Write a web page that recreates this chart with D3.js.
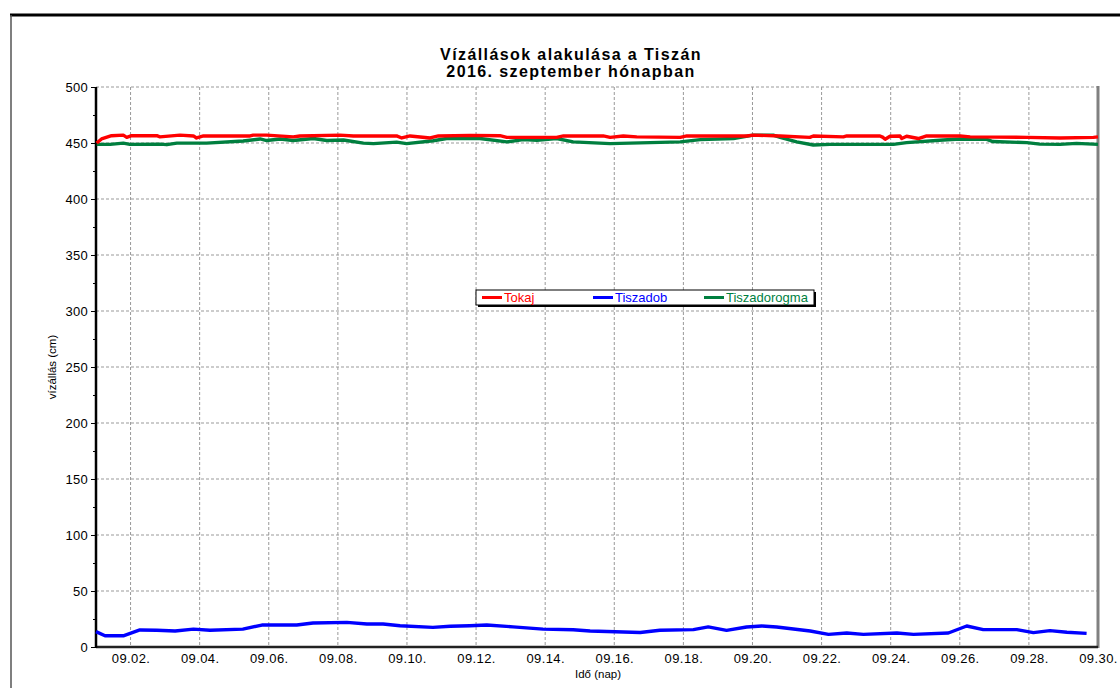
<!DOCTYPE html>
<html><head><meta charset="utf-8">
<script src="https://cdn.jsdelivr.net/npm/d3@7"></script>
<style>body{margin:0;background:#fff}svg{display:block;font-family:Arial,"Liberation Sans",sans-serif}</style>
</head><body><svg id="c" width="1120" height="688"></svg>
<script>
// Day of September 2016 (fractional) and water level (cm)
const tokajDays = [1.02,1.16,1.45,1.79,1.89,2.03,2.76,2.85,3.43,3.82,3.91,4.11,5.46,5.55,5.94,6.71,6.90,8.06,8.45,9.70,9.85,10.09,10.67,10.91,11.83,12.69,12.89,14.33,14.53,15.68,15.88,16.26,16.65,17.91,18.10,19.83,20.02,20.80,21.66,21.76,22.63,22.73,23.69,23.78,23.84,23.98,24.27,24.32,24.46,24.80,25.04,26.01,26.30,27.94,28.90,29.87,30.00];
const tokajVals = [450,453.6,456.5,457,455,456.5,456.5,455.5,457,456.3,454.5,456.3,456.3,457,457,455.5,456.3,457,456.3,456.3,454.5,456.3,454.5,456.3,456.8,456.5,455,455,456.3,456.3,455,456.3,455.5,455,456.3,456.3,457,456.3,455,456.3,455.5,456.3,456.3,455,453.3,456,456.3,454,456,454,456.3,456.3,455.5,455,454.5,455,455.5];
const tiszadobDays = [1.00,1.26,1.79,2.27,2.76,3.29,3.82,4.30,5.25,5.80,6.81,7.28,8.26,8.84,9.31,9.80,10.75,11.25,11.82,12.31,13.07,13.94,14.81,15.30,16.75,17.32,18.29,18.72,19.25,19.83,20.27,20.70,21.67,22.20,22.73,23.21,24.18,24.66,25.67,26.20,26.68,27.65,28.13,28.61,29.10,29.67];
const tiszadobVals = [13.7,10,10,15.2,15,14.3,16,15,16,19.6,19.6,21.4,22,20.5,20.5,19,17.5,18.5,19,19.6,18,16,15.4,14.3,13,14.9,15.5,17.9,14.9,17.9,18.75,17.9,14.3,11.3,12.5,11.3,12.5,11.3,12.5,18.75,15.5,15.5,12.8,14.6,13.2,12.2];
const dorogmaDays = [1.02,1.41,1.79,1.98,2.85,3.05,3.34,4.20,5.26,5.75,5.94,6.33,6.71,7.29,7.68,8.16,8.74,9.03,9.70,9.99,10.76,11.15,12.11,12.89,13.37,13.76,14.33,14.81,15.88,17.91,18.49,19.45,20.02,20.60,20.80,21.28,21.76,22.24,23.69,24.08,24.46,25.52,26.01,26.78,26.96,27.94,28.32,28.90,29.38,30.00];
const dorogmaVals = [448.8,448.8,449.9,448.8,449,448.5,449.9,449.9,451.8,453.6,452.2,453.6,452.2,454,452.2,452.7,449.9,449.4,450.8,449.4,452,454,454,451,453,452.5,454,451,449.4,451,453,454,457,457,455,451,448.2,448.8,448.8,448.8,450.3,452.7,453.6,453.2,451.3,450.3,449,448.8,449.7,448.8];
const seriesNames = ["Tokaj","Tiszadob","Tiszadorogma"];
const seriesColors = ["#ff0000","#0000ff","#007f3f"];
const xTickDays = [2,4,6,8,10,12,14,16,18,20,22,24,26,28,30];
const xTickLabels = ["09.02.","09.04.","09.06.","09.08.","09.10.","09.12.","09.14.","09.16.","09.18.","09.20.","09.22.","09.24.","09.26.","09.28.","09.30."];
const yTicks = [0,50,100,150,200,250,300,350,400,450,500];
const yMinorTicks = [25,75,125,175,225,275,325,375,425,475];
const titleLines = ["Vízállások alakulása a Tiszán","2016. szeptember hónapban"];
const xTitle = "Idő (nap)";
const yTitle = "vízállás (cm)";

const svg = d3.select("#c");
const L = 96, R = 1098, T = 87, B = 647;
const x = d3.scaleLinear().domain([1,30]).range([L,R]);
const y = d3.scaleLinear().domain([0,500]).range([B,T]);
const FF = "Arial, 'Liberation Sans', sans-serif";

// outer frame
svg.append("line").attr("x1",10).attr("x2",1120).attr("y1",15).attr("y2",15).attr("stroke","#000").attr("stroke-width",3);
svg.append("line").attr("x1",11).attr("x2",11).attr("y1",15).attr("y2",688).attr("stroke","#555").attr("stroke-width",1.5);

// gridlines
const g = svg.append("g");
g.selectAll(".vg").data(xTickDays).join("line")
  .attr("x1",d=>x(d)).attr("x2",d=>x(d)).attr("y1",T).attr("y2",B)
  .attr("stroke","#999").attr("stroke-dasharray","3,2").attr("stroke-width",1);
g.selectAll(".hg").data(yTicks).join("line")
  .attr("x1",L).attr("x2",R).attr("y1",d=>y(d)).attr("y2",d=>y(d))
  .attr("stroke","#999").attr("stroke-dasharray","3,2").attr("stroke-width",1);

// axes
const yAxis = d3.axisLeft(y).tickValues(yTicks).tickSize(5).tickPadding(3).tickFormat(d3.format("d"));
const ya = svg.append("g").attr("transform",`translate(${L},0)`).call(yAxis);
ya.select(".domain").remove();
ya.selectAll("text").attr("font-size",13).attr("letter-spacing",0.3).attr("fill","#000").attr("font-family",FF);
svg.append("g").attr("transform",`translate(${L},0)`).call(d3.axisLeft(y).tickValues(yMinorTicks).tickSize(3).tickFormat(""))
  .select(".domain").remove();

const xAxis = d3.axisBottom(x).tickValues(xTickDays).tickSize(0).tickPadding(7).tickFormat((d,i)=>xTickLabels[i]);
const xa = svg.append("g").attr("transform",`translate(0,${B})`).call(xAxis);
xa.select(".domain").remove();
xa.selectAll("text").attr("font-size",13).attr("letter-spacing",0.4).attr("fill","#000").attr("font-family",FF);

// frame lines
svg.append("line").attr("x1",R).attr("x2",R).attr("y1",T-1).attr("y2",B+1).attr("stroke","#808080").attr("stroke-width",3);
svg.append("line").attr("x1",L).attr("x2",R).attr("y1",B).attr("y2",B).attr("stroke","#222").attr("stroke-width",2.5);
svg.append("line").attr("x1",L).attr("x2",L).attr("y1",T).attr("y2",B+1).attr("stroke","#000").attr("stroke-width",2.5);

// series
const line = d3.line().x(d=>x(d[0])).y(d=>y(d[1]));
const series = [
  d3.zip(tokajDays,tokajVals),
  d3.zip(tiszadobDays,tiszadobVals),
  d3.zip(dorogmaDays,dorogmaVals)
];
[2,0,1].forEach(i=>{
  svg.append("path").datum(series[i]).attr("d",line).attr("fill","none")
    .attr("stroke",seriesColors[i]).attr("stroke-width",3.4).attr("stroke-linejoin","round");
});

// titles
svg.append("text").attr("x",571).attr("y",60).attr("text-anchor","middle").attr("font-size",16).attr("font-weight","bold").attr("letter-spacing",1.4).text(titleLines[0]);
svg.append("text").attr("x",571).attr("y",77).attr("text-anchor","middle").attr("font-size",16).attr("font-weight","bold").attr("letter-spacing",1.4).text(titleLines[1]);
svg.append("text").attr("x",598).attr("y",678).attr("text-anchor","middle").attr("font-size",11.5).text(xTitle);
svg.append("text").attr("transform","translate(56,367) rotate(-90)").attr("text-anchor","middle").attr("font-size",11.5).text(yTitle);

// legend
const lg = svg.append("g");
lg.append("rect").attr("x",478).attr("y",292).attr("width",338).attr("height",15).attr("fill","#000");
lg.append("rect").attr("x",476).attr("y",290).attr("width",338).attr("height",15).attr("fill","#fff").attr("stroke","#000").attr("stroke-width",1);
const lx = [482,593,704];
seriesNames.forEach((n,i)=>{
  lg.append("line").attr("x1",lx[i]).attr("x2",lx[i]+20).attr("y1",297.5).attr("y2",297.5).attr("stroke",seriesColors[i]).attr("stroke-width",3);
  lg.append("text").attr("x",lx[i]+22).attr("y",302).attr("font-size",13).attr("fill",seriesColors[i]).text(n);
});
</script></body></html>
